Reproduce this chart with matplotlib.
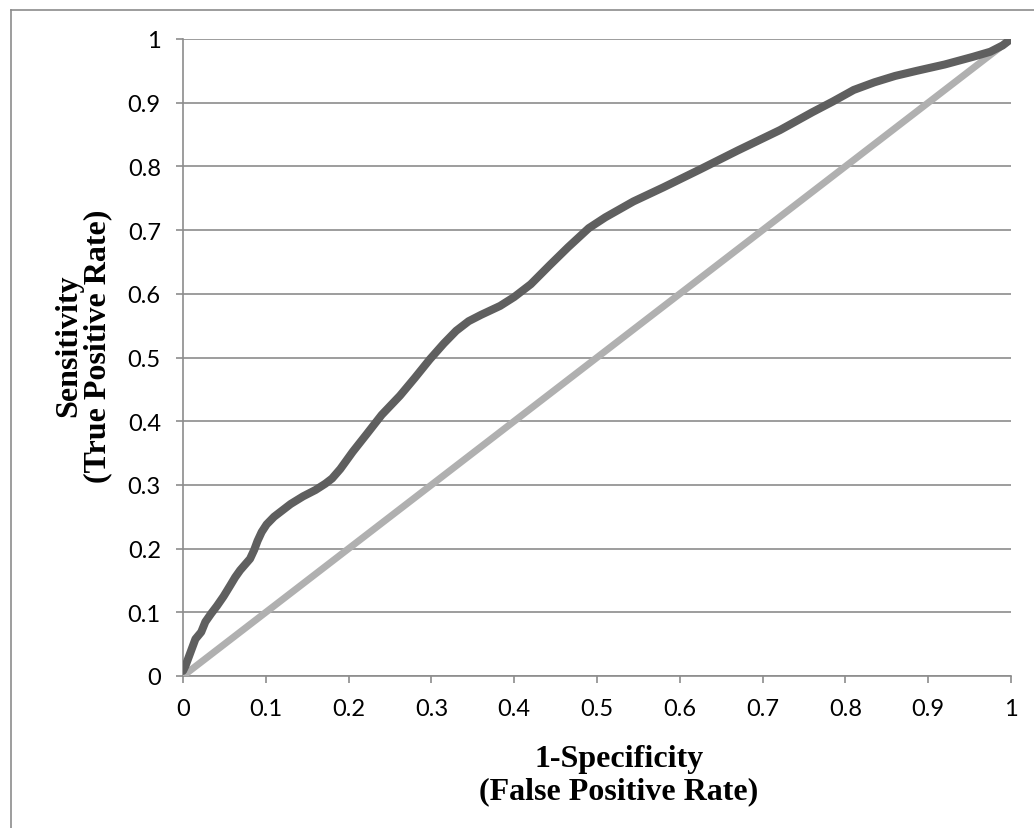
import matplotlib.pyplot as plt
from matplotlib.lines import Line2D

# ROC curve
fpr = [0, 0.003, 0.009, 0.015, 0.022, 0.027, 0.034, 0.041, 0.049, 0.057, 0.063,
       0.069, 0.075, 0.081, 0.086, 0.09, 0.095, 0.101, 0.11, 0.12, 0.13, 0.145,
       0.16, 0.172, 0.18, 0.19, 0.205, 0.222, 0.24, 0.262, 0.28, 0.298, 0.315,
       0.33, 0.345, 0.36, 0.383, 0.40, 0.42, 0.443, 0.465, 0.49, 0.51, 0.544,
       0.58, 0.624, 0.67, 0.721, 0.76, 0.785, 0.81, 0.835, 0.86, 0.886, 0.92,
       0.954, 0.975, 0.99, 1.0]
tpr = [0.008, 0.016, 0.037, 0.058, 0.069, 0.085, 0.098, 0.110, 0.125, 0.142, 0.155,
       0.166, 0.175, 0.184, 0.198, 0.212, 0.226, 0.238, 0.25, 0.26, 0.27, 0.282,
       0.292, 0.302, 0.31, 0.325, 0.352, 0.38, 0.41, 0.44, 0.468, 0.497, 0.522,
       0.542, 0.557, 0.567, 0.581, 0.595, 0.615, 0.645, 0.673, 0.703, 0.72, 0.745,
       0.767, 0.795, 0.825, 0.857, 0.885, 0.902, 0.92, 0.932, 0.942, 0.95, 0.96,
       0.972, 0.98, 0.99, 1.0]
ref_x = [0, 1]
ref_y = [0, 1]
ticks = [0, 0.1, 0.2, 0.3, 0.4, 0.5, 0.6, 0.7, 0.8, 0.9, 1]
tick_labels = ["0", "0.1", "0.2", "0.3", "0.4", "0.5", "0.6", "0.7", "0.8", "0.9", "1"]

W, H = 1034, 829
fig = plt.figure(figsize=(W / 100, H / 100), dpi=100)
ax = fig.add_axes([183 / W, 1 - 677 / H, (1011 - 183) / W, (677 - 40) / H])

ax.plot(ref_x, ref_y, color="#b0b0b0", lw=5.0, solid_capstyle="butt", zorder=3)
ax.plot(fpr, tpr, color="#5f5f5f", lw=5.8, solid_capstyle="round",
        solid_joinstyle="round", zorder=4)

ax.set_xlim(0, 1)
ax.set_ylim(0, 1)
ax.set_xticks(ticks)
ax.set_xticklabels(tick_labels)
ax.set_yticks(ticks)
ax.set_yticklabels(tick_labels)
ax.grid(axis="y", color="#8c8c8c", lw=1.2)
ax.set_axisbelow(True)
for s in ["top", "right"]:
    ax.spines[s].set_visible(False)
for s in ["left", "bottom"]:
    ax.spines[s].set_color("#8c8c8c")
    ax.spines[s].set_linewidth(1.2)
ax.tick_params(colors="#8c8c8c", length=5, width=1.2, labelcolor="black",
               labelsize=17, pad=11)
for lab in ax.get_xticklabels() + ax.get_yticklabels():
    lab.set_fontfamily("Lato")

# axis titles
fig.text(619 / W, 1 - 776 / H, "1-Specificity\n(False Positive Rate)", fontsize=23,
         fontweight="bold", family="Liberation Serif", ha="center", va="center",
         multialignment="center", linespacing=1.15)
fig.text(83 / W, 1 - 346 / H, "Sensitivity\n(True Positive Rate)", fontsize=23,
         fontweight="bold", family="Liberation Serif", ha="center", va="center",
         rotation=90, multialignment="center", linespacing=1.0)

# chart border (only left and top visible in the crop)
fig.add_artist(Line2D([11 / W, 11 / W], [0, 1 - 11 / H], color="#8c8c8c", lw=1.2))
fig.add_artist(Line2D([11 / W, 1], [1 - 11 / H, 1 - 11 / H], color="#8c8c8c", lw=1.2))

fig.savefig("out.png", dpi=100)
